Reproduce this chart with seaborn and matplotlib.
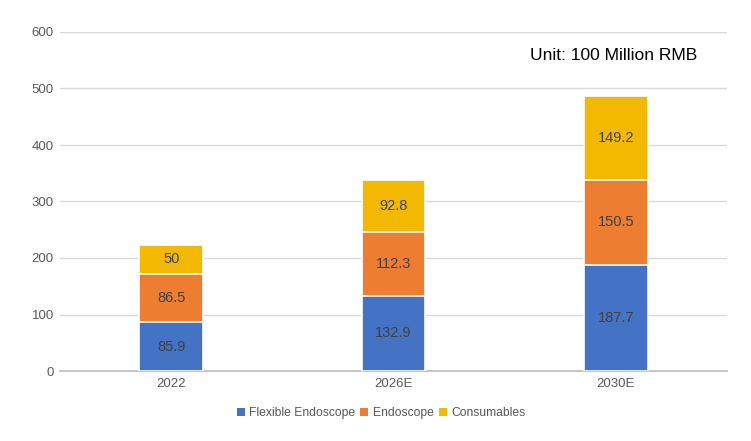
import matplotlib
matplotlib.use("Agg")
import matplotlib.pyplot as plt
import seaborn as sns
import numpy as np
import pandas as pd
from matplotlib.patches import Patch

years = ["2022", "2026E", "2030E"]
flexible = [85.9, 132.9, 187.7]
endoscope = [86.5, 112.3, 150.5]
consumables = [50, 92.8, 149.2]
series_names = ["Flexible Endoscope", "Endoscope", "Consumables"]
colors = ["#4472C4", "#ED7D31", "#F2B900"]
yticks = [0, 100, 200, 300, 400, 500, 600]

sns.set_theme(style="white")
plt.rcParams["font.family"] = ["Liberation Sans", "DejaVu Sans"]

fig = plt.figure(figsize=(7.51, 4.41), dpi=100)
ax = fig.add_axes([60/751, 1-371/441, (727-60)/751, (371-32)/441])

series = [flexible, endoscope, consumables]
cum = np.cumsum(np.array(series), axis=0)
# draw top-most cumulative first so lower segments overlay
for i in reversed(range(3)):
    df = pd.DataFrame({"year": years, "value": cum[i]})
    sns.barplot(data=df, x="year", y="value", color=colors[i], width=0.285,
                saturation=1, edgecolor="white", linewidth=1.2, ax=ax, zorder=3)

for j in range(3):
    bottom = 0
    for i in range(3):
        v = series[i][j]
        ax.text(j, bottom + v/2, f"{v:g}", ha="center", va="center",
                fontsize=10.5, color="#404040", zorder=5)
        bottom += v

ax.set_ylim(0, 600)
ax.set_xlim(-0.5, 2.5)
ax.set_yticks(yticks)
ax.set_yticklabels([str(t) for t in yticks])
ax.yaxis.grid(True, color="#d9d9d9", linewidth=1, zorder=0)
ax.set_axisbelow(True)
for s in ["top", "right", "left"]:
    ax.spines[s].set_visible(False)
ax.spines["bottom"].set_color("#bfbfbf")
ax.tick_params(axis="y", length=0, labelsize=9.5, colors="#595959", pad=4.5)
ax.set_xticks([0, 1, 2])
ax.set_xticklabels(years)
ax.tick_params(axis="x", length=0, labelsize=9.5, colors="#595959", pad=5)
# category boundary ticks
ax.set_xticks([-0.5, 0.5, 1.5, 2.5], minor=True)
ax.tick_params(axis="x", which="minor", length=5, color="#bfbfbf", direction="out")
ax.set_xlabel("")
ax.set_ylabel("")

ax.text(0.955, 0.932, "Unit: 100 Million RMB", transform=ax.transAxes,
        ha="right", va="center", fontsize=12.5, color="#000000")

handles = [Patch(facecolor=c, edgecolor="none") for c in colors]
fig.legend(handles, series_names, loc="center", bbox_to_anchor=(381/751, 1-413/441),
           ncol=3, frameon=False, fontsize=8.7, handlelength=0.65, handleheight=0.65,
           handletextpad=0.35, columnspacing=0.45, labelcolor="#595959")

fig.savefig("out.png", dpi=100, facecolor="white")
